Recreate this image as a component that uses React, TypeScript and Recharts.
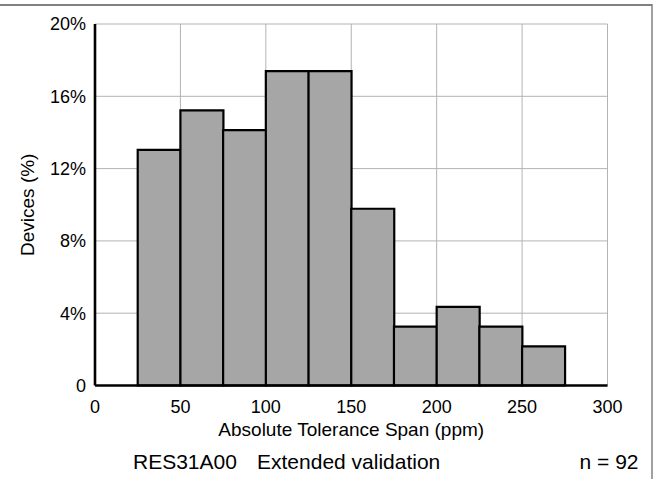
import React from "react";
import {
  BarChart,
  Bar,
  XAxis,
  YAxis,
  CartesianGrid,
  Label,
} from "recharts";

// Histogram bins (ppm), 25 ppm wide
const binStarts = [0, 25, 50, 75, 100, 125, 150, 175, 200, 225, 250, 275];
// Share of devices in each bin (%), n = 92
const devicePct = [0, 13.04, 15.22, 14.13, 17.39, 17.39, 9.78, 3.26, 4.35, 3.26, 2.17, 0];
const xTicks = [0, 50, 100, 150, 200, 250, 300];
const yTicks = [0, 4, 8, 12, 16, 20];
const xLabel = "Absolute Tolerance Span (ppm)";
const yLabel = "Devices (%)";
const footerPart = "RES31A00";
const footerTitle = "Extended validation";
const footerN = "n = 92";

const data = binStarts.map((s, i) => ({ bin: `${s}-${s + 25}`, start: s, pct: devicePct[i] }));

const FONT = "'Liberation Sans', Arial, Helvetica, sans-serif";
const tickStyle = { fontSize: 18, fill: "#000", fontFamily: FONT };
const FRAME = 2.6;

export default function App() {
  return (
    <div style={{ position: "absolute", left: 0, top: 0, width: 659, height: 479, background: "#fff", overflow: "hidden" }}>
      <BarChart
        width={659}
        height={479}
        data={data}
        barCategoryGap={0}
        barGap={0}
        margin={{ top: 24, right: 51.5, bottom: 41.5, left: 25 }}
        style={{ fontFamily: FONT }}
      >
        <CartesianGrid xAxisId="ticks" stroke="#b3b3b3" strokeWidth={1} />
        <XAxis xAxisId="bins" dataKey="bin" hide height={0} />
        <XAxis
          xAxisId="ticks"
          type="number"
          dataKey="start"
          domain={[0, 300]}
          ticks={xTicks}
          allowDataOverflow
          height={52}
          tickLine={false}
          tickMargin={9}
          axisLine={{ stroke: "#000", strokeWidth: FRAME }}
          tick={tickStyle}
        >
          <Label value={xLabel} position="insideBottom" offset={2} style={{ fontSize: 19, fill: "#000", fontFamily: FONT }} />
        </XAxis>
        <XAxis
          xAxisId="top"
          orientation="top"
          type="number"
          domain={[0, 300]}
          height={0}
          tick={false}
          tickLine={false}
          axisLine={{ stroke: "#000", strokeWidth: FRAME }}
        />
        <YAxis
          domain={[0, 20]}
          ticks={yTicks}
          width={70}
          tickLine={false}
          tickMargin={3}
          axisLine={{ stroke: "#000", strokeWidth: FRAME }}
          tick={tickStyle}
          tickFormatter={(v: number) => (v === 0 ? "0" : `${v}%`)}
        >
          <Label
            value={yLabel}
            angle={-90}
            position="insideLeft"
            offset={2}
            style={{ fontSize: 19, fill: "#000", fontFamily: FONT, textAnchor: "middle" }}
          />
        </YAxis>
        <YAxis
          yAxisId="right"
          orientation="right"
          domain={[0, 20]}
          width={0}
          tick={false}
          tickLine={false}
          axisLine={{ stroke: "#000", strokeWidth: FRAME }}
        />
        <Bar
          xAxisId="bins"
          dataKey="pct"
          fill="#a6a6a6"
          stroke="#000"
          strokeWidth={2.2}
          isAnimationActive={false}
        />
      </BarChart>
      <svg width={659} height={479} style={{ position: "absolute", left: 0, top: 0, pointerEvents: "none" }}>
        <line x1={0} y1={5} x2={652} y2={5} stroke="#808080" strokeWidth={2} />
        <line x1={652} y1={4} x2={652} y2={479} stroke="#808080" strokeWidth={1.5} />
        <g style={{ fontFamily: FONT, fontSize: 21 }} fill="#000">
          <text x={133} y={468.5}>{footerPart}</text>
          <text x={257} y={468.5}>{footerTitle}</text>
          <text x={638.5} y={468.5} textAnchor="end">{footerN}</text>
        </g>
      </svg>
    </div>
  );
}
